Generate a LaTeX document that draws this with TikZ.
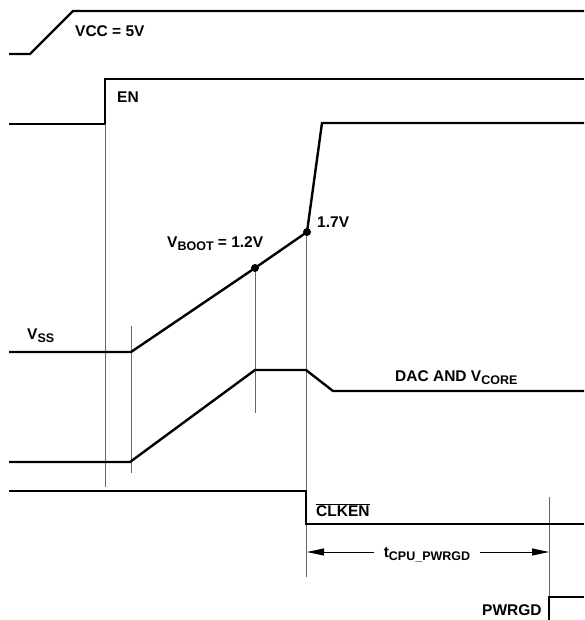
\documentclass[tikz,border=0pt]{standalone}
\usepackage{fontspec}
\setmainfont{Liberation Sans}
\usetikzlibrary{arrows.meta,positioning}
\definecolor{guidegray}{RGB}{105,105,105}
\newcommand{\lblfont}{\fontsize{15.5}{17}\selectfont\bfseries}
\newcommand{\subs}[1]{\raisebox{-3.5pt}{\fontsize{12.5}{14}\selectfont #1}}

\begin{document}
\begin{tikzpicture}[x=1pt,y=-1pt,
    trace/.style={black, line width=2.4pt},
    guide/.style={guidegray, line width=1pt},
    lab/.style={inner sep=0pt, font=\lblfont, anchor=base west},
    dotmark/.style={circle, fill=black, inner sep=0pt, minimum size=8pt},
    dimarrow/.style={black, line width=1pt, -{Triangle[length=17pt,width=7pt]}}]
    \useasboundingbox (0,0) rectangle (584,620);

    % VCC and EN
    \draw[trace] (9,54) -- (30,54) -- (73,11) -- (584,11);
    \node[lab] (vcc) at (75,37) {VCC = 5V};
    \draw[trace] (9,124) -- (105,124) -- (105,79) -- (584,79);
    \node[lab] (en) at (117,103) {EN};

    % timing guides
    \draw[guide] (105,124) -- (105,487);
    \draw[guide] (131,326) -- (131,473);
    \draw[guide] (255,268) -- (255,413);
    \draw[guide] (306,232) -- (306,577);
    \draw[guide] (549,497) -- (549,620);

    % soft start
    \coordinate (vboot) at (255,268);
    \coordinate (vmax) at (307,232);
    \draw[trace] (9,352) -- (131,352) -- (vboot) -- (vmax) -- (322,123) -- (584,123);
    \node[dotmark] (bootdot) at (vboot) {};
    \node[dotmark] (maxdot) at (vmax) {};
    \node[lab] (vss) at (27,339) {V\subs{SS}};
    \node[lab] (bootlab) at (167,247) {V\subs{BOOT} = 1.2V};
    \node[lab] (maxlab) at (317,227) {1.7V};

    % DAC and core
    \draw[trace] (9,462) -- (130,462) -- (255,370) -- (306,370) -- (333,391) -- (584,391);
    \node[lab] (dac) at (395,381) {DAC AND V\subs{CORE}};

    % CLKEN and PWRGD
    \draw[trace] (9,491) -- (306,491) -- (306,524) -- (584,524);
    \node[lab] (clken) at (316,516) {$\overline{\mbox{CLKEN}}$};
    \draw[trace] (549,622) -- (549,597) -- (584,597);
    \node[lab] (pwrgd) at (482,615) {PWRGD};

    % delay
    \coordinate (tstart) at (307,552);
    \coordinate (tend) at (549,552);
    \node[inner xsep=10pt, inner ysep=0pt, font=\lblfont, anchor=base] (tcpu) at (427,557) {t\subs{CPU\_PWRGD}};
    \draw[dimarrow] (tcpu.west |- tstart) -- (tstart);
    \draw[dimarrow] (tcpu.east |- tend) -- (tend);
\end{tikzpicture}
\end{document}
